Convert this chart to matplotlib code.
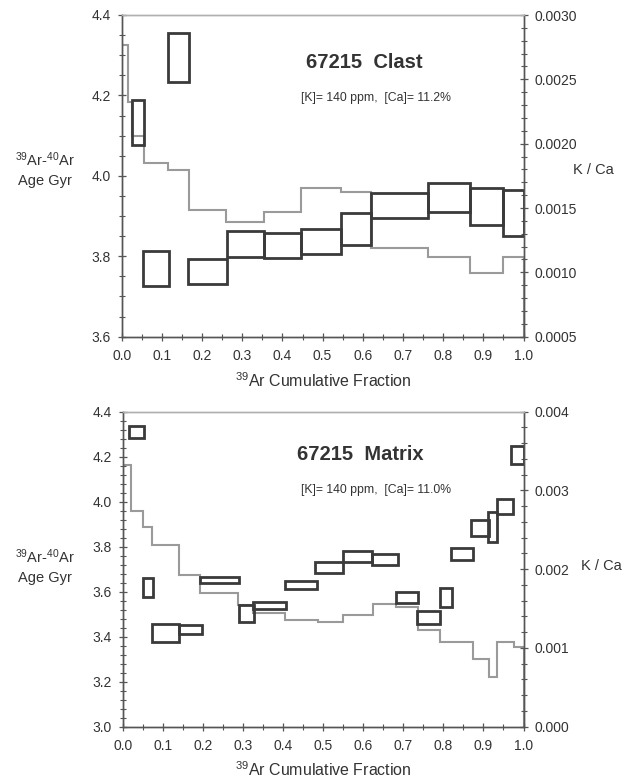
import matplotlib
matplotlib.use("Agg")
import matplotlib.pyplot as plt
from matplotlib.ticker import MultipleLocator, FormatStrFormatter, AutoMinorLocator
import numpy as np

plt.rcParams['font.family'] = ['Liberation Sans', 'DejaVu Sans']
plt.rcParams['mathtext.fontset'] = 'custom'
plt.rcParams['mathtext.rm'] = 'Liberation Sans'
plt.rcParams['mathtext.it'] = 'Liberation Sans:italic'
plt.rcParams['mathtext.bf'] = 'Liberation Sans:bold'

# ---------------- data: 67215 Clast ----------------
clast_frac_lo = [0.025, 0.054, 0.114, 0.166, 0.261, 0.355, 0.447, 0.545, 0.621, 0.762, 0.866, 0.949]
clast_frac_hi = [0.056, 0.118, 0.167, 0.261, 0.355, 0.447, 0.545, 0.621, 0.762, 0.866, 0.949, 1.000]
clast_age_lo = [4.077, 3.726, 4.234, 3.731, 3.799, 3.795, 3.805, 3.828, 3.896, 3.911, 3.879, 3.850]
clast_age_hi = [4.189, 3.814, 4.354, 3.792, 3.863, 3.857, 3.868, 3.907, 3.958, 3.983, 3.969, 3.965]
clast_kca_edges = [0.0, 0.016, 0.025, 0.056, 0.116, 0.167, 0.259, 0.355, 0.447, 0.545, 0.621, 0.762, 0.866, 0.949, 1.0]
clast_kca = [0.002767, 0.002326, 0.00206, 0.00185, 0.001796, 0.001485, 0.001394, 0.001471,
             0.001653, 0.001627, 0.001187, 0.001122, 0.000993, 0.00112]

# ---------------- data: 67215 Matrix ----------------
matrix_frac_lo = [0.016, 0.051, 0.073, 0.141, 0.192, 0.290, 0.324, 0.405, 0.481, 0.549,
                  0.622, 0.682, 0.735, 0.791, 0.818, 0.869, 0.912, 0.934, 0.970]
matrix_frac_hi = [0.054, 0.075, 0.141, 0.198, 0.290, 0.328, 0.408, 0.486, 0.549, 0.622,
                  0.686, 0.738, 0.791, 0.821, 0.873, 0.913, 0.935, 0.975, 1.000]
matrix_age_lo = [4.284, 3.578, 3.378, 3.411, 3.637, 3.466, 3.521, 3.612, 3.684, 3.733,
                 3.718, 3.548, 3.458, 3.533, 3.742, 3.849, 3.822, 3.946, 4.168]
matrix_age_hi = [4.336, 3.660, 3.455, 3.452, 3.667, 3.540, 3.555, 3.649, 3.733, 3.781,
                 3.766, 3.600, 3.514, 3.615, 3.796, 3.919, 3.956, 4.011, 4.246]
matrix_kca_edges = [0.0, 0.020, 0.051, 0.072, 0.141, 0.194, 0.288, 0.325, 0.404, 0.487,
                    0.549, 0.624, 0.682, 0.738, 0.791, 0.873, 0.913, 0.935, 0.977, 1.0]
matrix_kca = [0.003323, 0.002739, 0.00254, 0.002307, 0.001926, 0.001702, 0.001545, 0.001448,
              0.001355, 0.001326, 0.001418, 0.001554, 0.001524, 0.001228, 0.00108, 0.000856,
              0.000627, 0.001071, 0.001016]

W, H = 637, 778
fig = plt.figure(figsize=(W / 100, H / 100), dpi=100)

BOX_C = '#3a3a3a'
LINE_C = '#9a9a9a'
SPINE_C = '#555555'
TXT_C = '#333333'


def px(x, y):
    return x / W, 1 - y / H


def make_panel(rect, frac_lo, frac_hi, age_lo, age_hi, edges, kca,
               ylim, ymaj, ymin_n, y2lim, y2maj, y2min_n, y2fmt):
    ax = fig.add_axes(rect)
    ax2 = ax.twinx()
    ax.set_zorder(ax2.get_zorder() + 1)
    ax.patch.set_visible(False)

    lo = np.array(frac_lo); hi = np.array(frac_hi)
    alo = np.array(age_lo); ahi = np.array(age_hi)
    ax.bar(lo, ahi - alo, width=hi - lo, bottom=alo, align='edge',
           fill=False, edgecolor=BOX_C, linewidth=2.0)
    ax2.stairs(kca, edges, color=LINE_C, linewidth=1.5)

    ax.set_xlim(0, 1)
    ax.set_ylim(*ylim)
    ax2.set_ylim(*y2lim)

    ax.xaxis.set_major_locator(MultipleLocator(0.1))
    ax.xaxis.set_minor_locator(AutoMinorLocator(2))
    ax.xaxis.set_major_formatter(FormatStrFormatter('%.1f'))
    ax.yaxis.set_major_locator(MultipleLocator(ymaj))
    ax.yaxis.set_minor_locator(AutoMinorLocator(ymin_n))
    ax.yaxis.set_major_formatter(FormatStrFormatter('%.1f'))
    ax2.yaxis.set_major_locator(MultipleLocator(y2maj))
    ax2.yaxis.set_minor_locator(AutoMinorLocator(y2min_n))
    ax2.yaxis.set_major_formatter(FormatStrFormatter(y2fmt))

    for a in (ax, ax2):
        for s in a.spines.values():
            s.set_color(SPINE_C)
            s.set_linewidth(1.0)
        a.spines['top'].set_color('#b0b0b0')
    ax.tick_params(axis='both', which='both', direction='inout', colors=SPINE_C,
                   labelcolor=TXT_C, labelsize=10, top=False, right=False)
    ax.tick_params(which='major', length=6, width=0.9)
    ax.tick_params(which='minor', length=4, width=0.8)
    ax.tick_params(axis='y', pad=5)
    ax.tick_params(axis='x', pad=6)
    ax2.tick_params(axis='y', which='both', direction='inout', colors=SPINE_C,
                    labelcolor=TXT_C, labelsize=10, pad=5)
    ax2.tick_params(which='major', length=6, width=0.9)
    ax2.tick_params(which='minor', length=4, width=0.8)
    return ax, ax2


# top panel
make_panel([121.7 / W, 1 - 336.7 / H, (523.5 - 121.7) / W, (336.7 - 15) / H],
           clast_frac_lo, clast_frac_hi, clast_age_lo, clast_age_hi,
           clast_kca_edges, clast_kca,
           (3.6, 4.4), 0.2, 4, (0.0005, 0.0030), 0.0005, 5, '%.4f')

# bottom panel
make_panel([122.7 / W, 1 - 726.7 / H, (523.5 - 122.7) / W, (726.7 - 411.7) / H],
           matrix_frac_lo, matrix_frac_hi, matrix_age_lo, matrix_age_hi,
           matrix_kca_edges, matrix_kca,
           (3.0, 4.4), 0.2, 5, (0.0, 0.004), 0.001, 5, '%.3f')

lab_kw = dict(ha='center', va='center', color=TXT_C, fontsize=10.5)
# top panel labels
fig.text(*px(45, 160), r'$^{39}$Ar-$^{40}$Ar', **lab_kw)
fig.text(*px(45, 181), 'Age Gyr', **lab_kw)
fig.text(*px(593, 170), 'K / Ca', **lab_kw)
fig.text(*px(323, 381), r'$^{39}$Ar Cumulative Fraction', ha='center', va='center',
         color=TXT_C, fontsize=11.5)
fig.text(*px(364, 62), '67215  Clast', ha='center', va='center', color=TXT_C,
         fontsize=14.5, fontweight='bold')
fig.text(*px(376, 98), '[K]= 140 ppm,  [Ca]= 11.2%', ha='center', va='center',
         color=TXT_C, fontsize=8.8)

# bottom panel labels
fig.text(*px(45, 557), r'$^{39}$Ar-$^{40}$Ar', **lab_kw)
fig.text(*px(45, 578), 'Age Gyr', **lab_kw)
fig.text(*px(601, 566), 'K / Ca', **lab_kw)
fig.text(*px(323, 770), r'$^{39}$Ar Cumulative Fraction', ha='center', va='center',
         color=TXT_C, fontsize=11.5)
fig.text(*px(360, 455), '67215  Matrix', ha='center', va='center', color=TXT_C,
         fontsize=14.5, fontweight='bold')
fig.text(*px(376, 490), '[K]= 140 ppm,  [Ca]= 11.0%', ha='center', va='center',
         color=TXT_C, fontsize=8.8)

fig.savefig('out.png', dpi=100)
